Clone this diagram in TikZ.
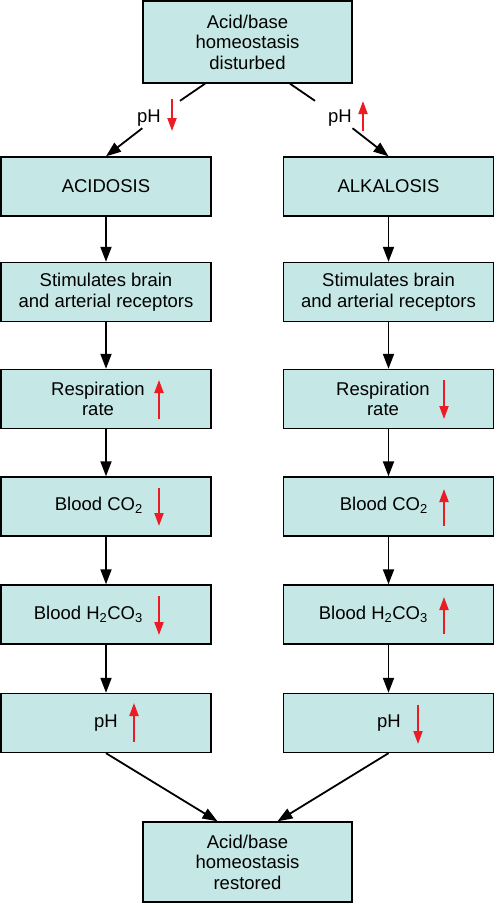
\documentclass[tikz,border=0pt]{standalone}
\usepackage{fontspec}
\setmainfont{Liberation Sans}
\usetikzlibrary{arrows.meta,calc}
\definecolor{boxfill}{RGB}{197,231,229}
\definecolor{arrred}{RGB}{237,28,36}
\begin{document}
\begin{tikzpicture}[x=1pt,y=-1pt,
  box/.style={draw=black, line width=1.4pt, fill=boxfill, minimum width=210pt, minimum height=59pt, inner sep=0pt,
              font=\fontsize{18.5}{20.5}\selectfont, align=center},
  txt/.style={font=\fontsize{18.5}{20.5}\selectfont, align=center, inner sep=0pt},
  conn/.style={line width=1.8pt, -{Triangle[length=15pt,width=11pt]}},
  plainline/.style={line width=1.8pt},
  redarr/.style={draw=arrred, line width=2pt, -{Triangle[length=13pt,width=9pt]}},
  gapnode/.style={minimum width=40pt, minimum height=27pt, inner sep=0pt}
]
\useasboundingbox (0,0) rectangle (495,903);

% top and bottom boxes
\node[box, minimum width=209pt, minimum height=82pt] (top) at (247.5,42) {Acid/base\\homeostasis\\disturbed};
\node[box, minimum width=209pt, minimum height=80pt] (rest) at (247.5,862) {Acid/base\\homeostasis\\restored};

% left column
\node[box] (acid)  at (106,186.5) {ACIDOSIS};
\node[box] (stimL) at (106,292) {Stimulates brain\\and arterial receptors};
\node[box] (respL) at (106,399) {};
\node[box] (co2L)  at (106,506.5) {};
\node[box] (hcoL)  at (106,614.5) {};
\node[box] (phL)   at (106,723) {};

% right column
\node[box] (alk)   at (388.5,186.5) {ALKALOSIS};
\node[box] (stimR) at (388.5,292) {Stimulates brain\\and arterial receptors};
\node[box] (respR) at (388.5,399) {};
\node[box] (co2R)  at (388.5,506.5) {};
\node[box] (hcoR)  at (388.5,614.5) {};
\node[box] (phR)   at (388.5,723) {};

% texts inside boxes
\node[txt] (respLt) at (98,399) {Respiration\\rate};
\node[txt] (respRt) at (383,399) {Respiration\\rate};
\node[txt, anchor=base east] (co2Lt) at (143,510.5) {Blood CO\textsubscript{2}};
\node[txt, anchor=base east] (co2Rt) at (428,510.5) {Blood CO\textsubscript{2}};
\node[txt, anchor=base east] (hcoLt) at (143,619) {Blood H\textsubscript{2}CO\textsubscript{3}};
\node[txt, anchor=base east] (hcoRt) at (428,619) {Blood H\textsubscript{2}CO\textsubscript{3}};
\node[txt, anchor=base] (phLt) at (106,727) {pH};
\node[txt, anchor=base] (phRt) at (389,727) {pH};

% red arrows in boxes
\draw[redarr] (159,419) -- (159,380);
\draw[redarr] (444,380) -- (444,419);
\draw[redarr] (159,488) -- (159,526);
\draw[redarr] (444,526) -- (444,489);
\draw[redarr] (159,596) -- (159,635);
\draw[redarr] (444,634) -- (444,597);
\draw[redarr] (134,742) -- (134,703);
\draw[redarr] (418,705) -- (418,744);

% top labels
\node[gapnode] (lblL) at (160,114.5) {};
\node[gapnode] (lblR) at (335,114.5) {};
\node[txt, anchor=base] (pHl) at (149,122) {pH};
\node[txt, anchor=base] (pHr) at (340,122) {pH};
\draw[redarr] (172,99) -- (172,131);
\draw[redarr] (363,131) -- (363,101);

% connectors from top
\coordinate (tl) at ($(top.south)+(-42.5,0)$);
\coordinate (tr) at ($(top.south)+(42.5,0)$);
\draw[plainline] (tl) -- (lblL);
\draw[conn] (lblL) -- (acid.north);
\draw[plainline] (tr) -- (lblR);
\draw[conn] (lblR) -- (alk.north);

% vertical connectors
\draw[conn] (acid) -- (stimL);
\draw[conn] (stimL) -- (respL);
\draw[conn] (respL) -- (co2L);
\draw[conn] (co2L) -- (hcoL);
\draw[conn] (hcoL) -- (phL);
\draw[conn] (alk) -- (stimR);
\draw[conn] (stimR) -- (respR);
\draw[conn] (respR) -- (co2R);
\draw[conn] (co2R) -- (hcoR);
\draw[conn] (hcoR) -- (phR);

% bottom connectors
\coordinate (rl) at ($(rest.north)+(-30,0)$);
\coordinate (rr) at ($(rest.north)+(30,0)$);
\draw[conn] (phL.south) -- (rl);
\draw[conn] (phR.south) -- (rr);
\end{tikzpicture}
\end{document}
